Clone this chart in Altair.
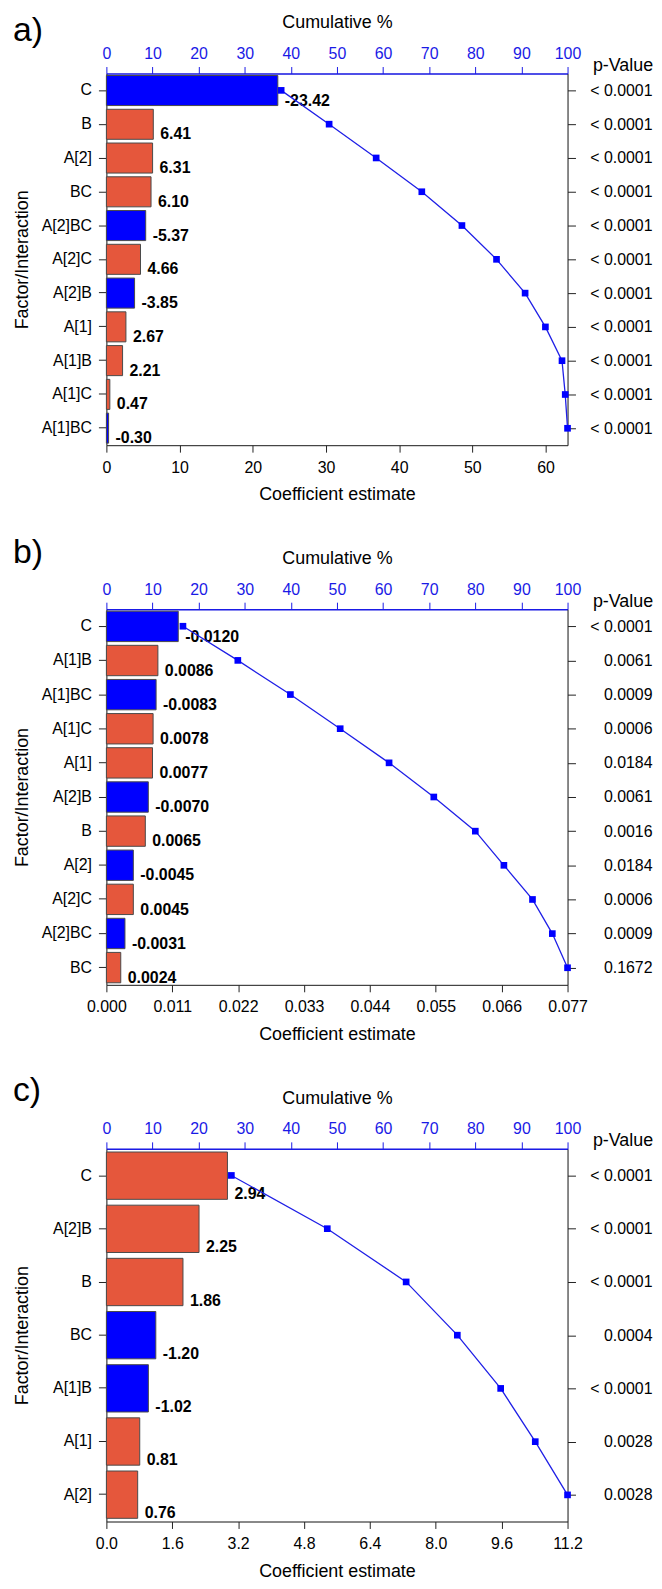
import altair as alt
import pandas as pd

FONT = "Liberation Sans"
BLUE = "#0000FF"
RED = "#E5573C"
LINE_BLUE = "#1F1FE6"
AXIS_BLUE = "#1A1AE6"
DARK = "#222222"

# ---------------- data ----------------
factors_a = ["C", "B", "A[2]", "BC", "A[2]BC", "A[2]C", "A[2]B", "A[1]", "A[1]B", "A[1]C", "A[1]BC"]
coef_a = [-23.42, 6.41, 6.31, 6.10, -5.37, 4.66, -3.85, 2.67, 2.21, 0.47, -0.30]
pval_a = ["< 0.0001", "< 0.0001", "< 0.0001", "< 0.0001", "< 0.0001", "< 0.0001",
          "< 0.0001", "< 0.0001", "< 0.0001", "< 0.0001", "< 0.0001"]
cum_a = [37.9, 48.3, 58.5, 68.4, 77.1, 84.6, 90.8, 95.2, 98.8, 99.5, 100.0]
ticks_a = [0, 10, 20, 30, 40, 50, 60]
xmax_a = 63

factors_b = ["C", "A[1]B", "A[1]BC", "A[1]C", "A[1]", "A[2]B", "B", "A[2]", "A[2]C", "A[2]BC", "BC"]
coef_b = [-0.0120, 0.0086, -0.0083, 0.0078, 0.0077, -0.0070, 0.0065, -0.0045, 0.0045, -0.0031, 0.0024]
pval_b = ["< 0.0001", "0.0061", "0.0009", "0.0006", "0.0184", "0.0061",
          "0.0016", "0.0184", "0.0006", "0.0009", "0.1672"]
cum_b = [16.6, 28.5, 39.9, 50.7, 61.3, 71.0, 80.0, 86.2, 92.4, 96.7, 100.0]
ticks_b = [0.000, 0.011, 0.022, 0.033, 0.044, 0.055, 0.066, 0.077]
xmax_b = 0.077

factors_c = ["C", "A[2]B", "B", "BC", "A[1]B", "A[1]", "A[2]"]
coef_c = [2.94, 2.25, 1.86, -1.20, -1.02, 0.81, 0.76]
pval_c = ["< 0.0001", "< 0.0001", "< 0.0001", "0.0004", "< 0.0001", "0.0028", "0.0028"]
cum_c = [27.1, 47.9, 65.0, 76.1, 85.5, 93.0, 100.0]
ticks_c = [0.0, 1.6, 3.2, 4.8, 6.4, 8.0, 9.6, 11.2]
xmax_c = 11.2

cum_ticks = [0, 10, 20, 30, 40, 50, 60, 70, 80, 90, 100]

W = 464


def pmap_expr(factors, pvals):
    expr = "''"
    for f, p in reversed(list(zip(factors, pvals))):
        expr = f"datum.value === '{f}' ? '{p}' : ({expr})"
    return expr


def panel(letter, factors, coefs, pvals, cums, ticks, xmax, tick_fmt, val_fmt, letter_y, height):
    df = pd.DataFrame({
        "factor": factors,
        "coef": coefs,
        "size": [abs(v) for v in coefs],
        "label": [format(v, val_fmt) for v in coefs],
        "cum": cums,
        "p": pvals,
    })
    ysc = alt.Scale(paddingInner=0.11, paddingOuter=0.06)
    base = alt.Chart(df)

    y_left = alt.Y(
        "factor:N", sort=factors, scale=ysc,
        axis=alt.Axis(
            orient="left", title="Factor/Interaction", titleFontSize=18, titleFont=FONT,
            titleFontWeight="normal", titleColor="black", titlePadding=9,
            labelFontSize=16, labelFont=FONT, labelColor="black", labelPadding=7,
            tickSize=8, tickColor=DARK, domainColor=DARK, minExtent=66, maxExtent=66,
        ),
    )
    x_bottom = alt.X(
        "size:Q", scale=alt.Scale(domain=[0, xmax], nice=False, zero=True),
        axis=alt.Axis(
            orient="bottom", title="Coefficient estimate", values=ticks, format=tick_fmt,
            titleFontSize=18, titleFont=FONT, titleFontWeight="normal", titleColor="black",
            titlePadding=11, labelFontSize=16, labelFont=FONT, labelColor="black",
            labelPadding=7, tickSize=7, tickColor=DARK, domainColor=DARK, grid=False,
            labelFlush=False,
        ),
    )
    bars = base.mark_bar(stroke="#4A4A4A", strokeWidth=1).encode(
        x=x_bottom,
        y=y_left,
        color=alt.condition("datum.coef < 0", alt.value(BLUE), alt.value(RED)),
    )
    text = base.mark_text(
        align="left", baseline="alphabetic", dx=7, font=FONT, fontSize=16,
        fontWeight="bold", color="black",
    ).encode(
        x=alt.X("size:Q"),
        y=alt.Y("factor:N", sort=factors, scale=ysc, bandPosition=1),
        text="label:N",
    )

    x_top = alt.X(
        "cum:Q", scale=alt.Scale(domain=[0, 100], nice=False),
        axis=alt.Axis(
            orient="top", title="Cumulative %", values=cum_ticks, format="d",
            titleFontSize=18, titleFont=FONT, titleFontWeight="normal", titleColor="black",
            titlePadding=14, labelFontSize=16, labelFont=FONT, labelColor=AXIS_BLUE,
            labelPadding=5, tickSize=7, tickColor=AXIS_BLUE, domainColor=AXIS_BLUE,
            domainWidth=1.5, grid=False, labelFlush=False,
        ),
    )
    y_none = alt.Y("factor:N", sort=factors, scale=ysc, axis=None)
    line = base.mark_line(color=LINE_BLUE, strokeWidth=1.3).encode(
        x=x_top, y=y_none, order=alt.Order("cum:Q")
    )
    pts = base.mark_square(size=45, color=BLUE, opacity=1).encode(x=x_top, y=y_none)

    pax = base.mark_point(opacity=0).encode(
        y=alt.Y(
            "factor:N", sort=factors, scale=ysc,
            axis=alt.Axis(
                orient="right", title="p-Value", titleAngle=0, titleX=25, titleY=-8,
                titleAlign="left", titleBaseline="middle", titleFontSize=18, titleFont=FONT,
                titleFontWeight="normal", titleColor="black",
                labelExpr=pmap_expr(factors, pvals), labelAlign="right", labelPadding=77,
                labelFontSize=16, labelFont=FONT, labelColor="black",
                tickSize=8, tickColor=DARK, domainColor=DARK,
            ),
        )
    )

    # panel letter ("a)", "b)", "c)") drawn as an annotation left of / above the plot
    tag = alt.Chart(pd.DataFrame({"tag": [letter]})).mark_text(
        align="left", baseline="alphabetic", font=FONT, fontSize=34, color="black",
    ).encode(text="tag:N", x=alt.value(-94), y=alt.value(letter_y))

    return alt.layer(
        alt.layer(bars, text), alt.layer(line, pts), pax, tag
    ).resolve_scale(x="independent", y="independent").properties(width=W, height=height)


pa = panel("a)", factors_a, coef_a, pval_a, cum_a, ticks_a, xmax_a, "d", ".2f", -33, 374)
pb = panel("b)", factors_b, coef_b, pval_b, cum_b, ticks_b, xmax_b, ".3f", ".4f", -46, 378)
pc = panel("c)", factors_c, coef_c, pval_c, cum_c, ticks_c, xmax_c, ".1f", ".2f", -48, 375)

chart = alt.vconcat(pa, pb, pc, spacing=165, bounds="flush").properties(
    padding={"left": 4, "top": 0, "right": 0, "bottom": 0}
).configure_view(stroke=DARK, strokeWidth=1).configure(font=FONT)

chart.save("out.html", embed_options={"renderer": "svg", "actions": False})
